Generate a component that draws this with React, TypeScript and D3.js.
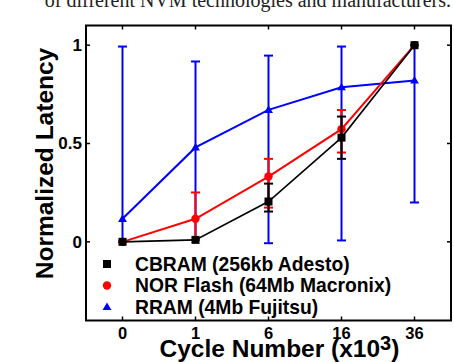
import React from "react";
import * as d3 from "d3";

const categories = ["0", "1", "6", "16", "36"];
const yTicks = [0, 0.5, 1];

const cbramValues = [0, 0.01, 0.205, 0.53, 1.0];
const cbramLow = [0, 0.01, 0.154, 0.422, 1.0];
const cbramHigh = [0, 0.01, 0.296, 0.637, 1.0];

const norValues = [0, 0.117, 0.332, 0.573, 1.0];
const norLow = [0, 0.01, 0.174, 0.454, 1.0];
const norHigh = [0, 0.251, 0.422, 0.67, 1.0];

const rramValues = [0.117, 0.48, 0.671, 0.786, 0.82];
const rramLow = [0.0, 0.01, -0.007, 0.007, 0.2];
const rramHigh = [0.993, 0.917, 0.947, 0.993, 1.0];

const legendLabels = ["CBRAM (256kb Adesto)", "NOR Flash (64Mb Macronix)", "RRAM (4Mb Fujitsu)"];

const W = 454;
const H = 362;
const box = { left: 86, right: 451, top: 25.5, bottom: 320.5 };
const FONT = "'Liberation Sans', Arial, sans-serif";

type Series = {
  name: string;
  color: string;
  values: number[];
  low: number[];
  high: number[];
  marker: "square" | "circle" | "triangle";
  lineWidth: number;
};

const series: Series[] = [
  { name: legendLabels[2], color: "#0000ff", values: rramValues, low: rramLow, high: rramHigh, marker: "triangle", lineWidth: 2 },
  { name: legendLabels[1], color: "#ff0000", values: norValues, low: norLow, high: norHigh, marker: "circle", lineWidth: 2 },
  { name: legendLabels[0], color: "#000000", values: cbramValues, low: cbramLow, high: cbramHigh, marker: "square", lineWidth: 1.6 },
];

function Marker({ type, x, y, color }: { type: string; x: number; y: number; color: string }) {
  if (type === "square") return <rect x={x - 4} y={y - 4} width={8} height={8} fill={color} />;
  if (type === "circle") return <circle cx={x} cy={y} r={4.2} fill={color} />;
  const p = d3.symbol().type(d3.symbolTriangle).size(34)();
  return <path d={p || ""} transform={`translate(${x},${y + 0.5})`} fill={color} />;
}

export default function App() {
  const x = d3.scalePoint<string>().domain(categories).range([box.left, box.right]).padding(0.5);
  const y = d3.scaleLinear().domain([-0.4, 1.1]).range([box.bottom, box.top]);
  const line = d3
    .line<number>()
    .x((_, i) => x(categories[i]) as number)
    .y((d) => y(d));
  const capHalf = 4.5;
  const legendOrder = [
    { label: legendLabels[0], color: "#000000", marker: "square" },
    { label: legendLabels[1], color: "#ff0000", marker: "circle" },
    { label: legendLabels[2], color: "#0000ff", marker: "triangle" },
  ];
  const legendY = [264, 285.5, 307];

  return (
    <svg width={W} height={H} style={{ position: "absolute", left: 0, top: 0 }} fontFamily={FONT}>
      <rect width={W} height={H} fill="#fff" />
      <text x={451} y={6.5} textAnchor="end" fontFamily="'Liberation Serif', 'Times New Roman', serif" fontSize={20} fill="#222">
        of different NVM technologies and manufacturers.
      </text>
      {series.map((s) => (
        <g key={s.name}>
          {s.values.map((v, i) => {
            const cx = x(categories[i]) as number;
            const y1 = y(s.low[i]);
            const y2 = y(s.high[i]);
            if (Math.abs(y1 - y2) < 0.5) return null;
            const showLowCap = Math.abs(y1 - y(v)) > 4 || s.low[i] < 0.005 ? Math.abs(y1 - y(v)) > 4 : false;
            return (
              <g key={i} stroke={s.color} strokeWidth={2}>
                <line x1={cx} x2={cx} y1={y1} y2={y2} />
                {showLowCap && <line x1={cx - capHalf} x2={cx + capHalf} y1={y1} y2={y1} />}
                <line x1={cx - capHalf} x2={cx + capHalf} y1={y2} y2={y2} />
              </g>
            );
          })}
          <path d={line(s.values) || ""} fill="none" stroke={s.color} strokeWidth={s.lineWidth} />
          {s.values.map((v, i) => (
            <Marker key={i} type={s.marker} x={x(categories[i]) as number} y={y(v)} color={s.color} />
          ))}
        </g>
      ))}
      <g stroke="#000" strokeWidth={1.5}>
        {categories.map((c) => (
          <g key={c}>
            <line x1={x(c)} x2={x(c)} y1={box.bottom} y2={box.bottom - 4} />
            <line x1={x(c)} x2={x(c)} y1={box.top} y2={box.top + 4} />
          </g>
        ))}
        {yTicks.map((t) => (
          <g key={t}>
            <line x1={box.left} x2={box.left + 4} y1={y(t)} y2={y(t)} />
            <line x1={box.right} x2={box.right - 4} y1={y(t)} y2={y(t)} />
          </g>
        ))}
      </g>
      <rect x={box.left} y={box.top} width={box.right - box.left} height={box.bottom - box.top} fill="none" stroke="#000" strokeWidth={2} />
      {yTicks.map((t) => (
        <text key={t} x={82} y={y(t)} dy="0.35em" textAnchor="end" fontSize={17} fontWeight="bold">
          {String(t)}
        </text>
      ))}
      {categories.map((c) => (
        <text key={c} x={x(c)} y={338.5} textAnchor="middle" fontSize={16.5} fontWeight="bold">
          {c}
        </text>
      ))}
      {legendOrder.map((l, i) => (
        <g key={l.label}>
          <Marker type={l.marker} x={107} y={legendY[i]} color={l.color} />
          <text x={135} y={legendY[i]} dy="0.36em" fontSize={19.3} fontWeight="bold">
            {l.label}
          </text>
        </g>
      ))}
      <text x={53} y={163.5} transform="rotate(-90 53 163.5)" textAnchor="middle" fontSize={24.5} fontWeight="bold">
        Normalized Latency
      </text>
      <text x={159.5} y={357} fontSize={24.5} fontWeight="bold">
        Cycle Number (x10
        <tspan fontSize={20} dy={-7}>3</tspan>
        <tspan dy={7}>)</tspan>
      </text>
    </svg>
  );
}
